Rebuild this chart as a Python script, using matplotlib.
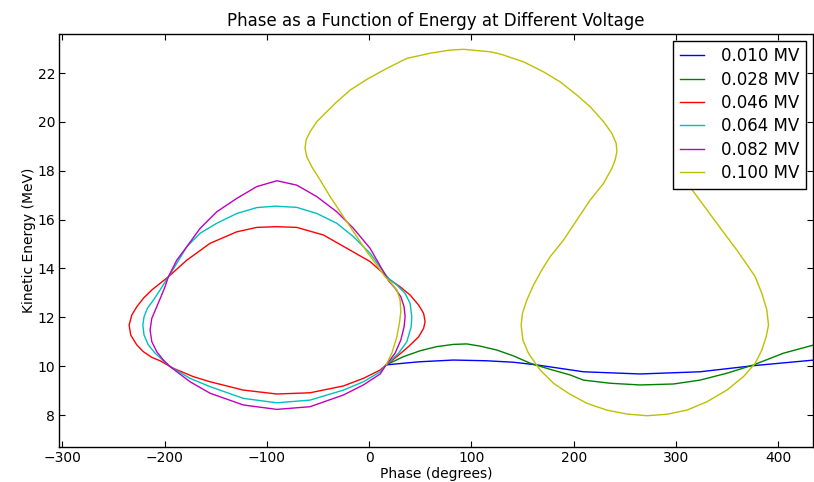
import matplotlib
matplotlib.use('Agg')
import matplotlib.pyplot as plt

# phase (degrees) / kinetic energy (MeV)
labels = ['0.010 MV', '0.028 MV', '0.046 MV', '0.064 MV', '0.082 MV', '0.100 MV']
colors = ['b', 'g', 'r', 'c', 'm', 'y']

phase_010 = [16.6, 33.6, 49.9, 82.4, 115.1, 141.1, 164.0, 209.4, 264.9, 323.6, 375.7, 435.0]
energy_010 = [10.05, 10.12, 10.18, 10.25, 10.22, 10.16, 10.05, 9.77, 9.68, 9.77, 10.02, 10.25]

phase_028 = [16.6, 33.6, 49.9, 66.2, 82.4, 95.5, 108.5, 124.8, 141.1, 157.4, 176.9, 196.5,
             209.4, 235.6, 264.9, 297.5, 323.6, 349.7, 375.7, 405.0, 435.0]
energy_028 = [10.05, 10.39, 10.63, 10.80, 10.89, 10.91, 10.82, 10.66, 10.42, 10.12, 9.87, 9.64,
              9.43, 9.30, 9.23, 9.27, 9.43, 9.71, 10.05, 10.53, 10.87]

phase_046 = [16.6, 27.1, 38.5, 48.4, 53.3, 54.7, 53.3, 48.4, 40.1, 30.3, 20.5, 14.0, 1.0,
             -18.6, -44.7, -70.7, -90.2, -109.8, -129.3, -155.4, -178.2, -196.2, -204.3,
             -212.4, -220.6, -227.1, -232.0, -234.6, -233.0, -227.1, -220.6, -212.4, -204.3,
             -191.3, -171.8, -155.4, -122.9, -90.2, -57.7, -25.1, -5.6, 10.8, 16.6]
energy_046 = [10.05, 10.39, 10.80, 11.20, 11.55, 11.82, 12.16, 12.50, 12.91, 13.25, 13.53, 13.80, 14.28,
              14.75, 15.37, 15.68, 15.71, 15.68, 15.50, 15.03, 14.34, 13.66, 13.39,
              13.12, 12.78, 12.43, 12.09, 11.68, 11.27, 10.87, 10.59, 10.36, 10.22,
              9.91, 9.57, 9.36, 9.02, 8.86, 8.91, 9.19, 9.50, 9.84, 10.05]

phase_064 = [16.6, 28.7, 36.9, 41.1, 41.7, 40.1, 35.2, 27.1, 18.9, 14.0, 1.0, -15.3, -31.6,
             -51.1, -70.7, -91.9, -109.8, -129.3, -148.9, -165.2, -178.2, -188.0, -196.2,
             -204.3, -210.8, -216.7, -220.0, -221.2, -220.0, -215.8, -209.2, -201.1, -194.5,
             -175.0, -155.4, -122.9, -90.2, -57.7, -25.1, -5.6, 10.8, 16.6]
energy_064 = [10.05, 10.53, 11.00, 11.61, 12.02, 12.57, 12.98, 13.32, 13.60, 13.87, 14.62, 15.30, 15.85,
              16.25, 16.50, 16.55, 16.49, 16.25, 15.85, 15.44, 14.89, 14.21, 13.66,
              13.12, 12.71, 12.37, 12.02, 11.68, 11.27, 10.87, 10.53, 10.22, 9.98,
              9.50, 9.16, 8.68, 8.50, 8.61, 9.02, 9.36, 9.77, 10.05]

phase_082 = [16.6, 25.4, 31.0, 34.2, 35.2, 34.2, 31.0, 25.4, 18.9, 14.0, 1.0, -15.3, -31.6,
             -51.1, -70.7, -90.2, -109.8, -129.3, -148.9, -165.2, -178.2, -188.0, -196.2,
             -199.5, -203.5, -207.6, -212.4, -214.1, -212.4, -207.6, -201.1, -194.5, -175.0,
             -155.4, -122.9, -90.2, -57.7, -25.1, -5.6, 10.8, 16.6]
energy_082 = [10.05, 10.53, 11.07, 11.61, 12.02, 12.43, 12.84, 13.19, 13.50, 13.87, 14.82, 15.64, 16.32,
              16.94, 17.41, 17.59, 17.35, 16.87, 16.32, 15.64, 14.89, 14.34, 13.66,
              13.25, 12.84, 12.43, 11.96, 11.48, 11.00, 10.59, 10.25, 9.98, 9.36,
              8.89, 8.41, 8.23, 8.34, 8.82, 9.23, 9.68, 10.05]

phase_100 = [16.6, 22.2, 27.1, 29.6, 31.0, 30.3, 27.1, 20.5, 15.6, 7.5, -2.2, -12.0, -25.1,
             -38.1, -47.9, -56.0, -60.9, -62.6, -61.6, -57.7, -51.1, -44.7, -31.6, -18.6,
             -2.2, 17.3, 36.9, 59.6, 79.2, 92.2, 118.3, 128.1, 150.8, 170.4, 186.7, 203.0,
             216.1, 229.1, 237.3, 241.5, 242.2, 240.5, 237.3, 229.1, 216.1, 203.0, 190.0,
             177.0, 168.8, 160.7, 154.2, 149.9, 148.6, 150.3, 155.7, 167.2, 180.2, 194.8,
             212.8, 232.4, 251.9, 271.5, 291.0, 310.6, 330.1, 349.7, 365.9, 377.4, 383.9,
             388.1, 390.4, 388.8, 383.9, 377.4, 370.8, 359.5, 344.8, 321.9, 300.1]
energy_100 = [10.05, 10.53, 11.20, 11.75, 12.23, 12.71, 13.12, 13.46, 13.66, 14.14, 14.68, 15.30, 16.12,
              16.94, 17.62, 18.16, 18.57, 18.92, 19.26, 19.60, 20.01, 20.28, 20.82, 21.30,
              21.74, 22.19, 22.60, 22.81, 22.94, 22.97, 22.87, 22.78, 22.46, 22.05, 21.64, 21.10,
              20.62, 20.01, 19.53, 19.12, 18.78, 18.44, 18.10, 17.48, 16.80, 15.98, 15.16,
              14.48, 13.94, 13.32, 12.71, 12.16, 11.68, 11.07, 10.53, 9.84, 9.30, 8.89,
              8.48, 8.20, 8.04, 7.97, 8.03, 8.20, 8.54, 9.02, 9.57, 10.12, 10.66,
              11.20, 11.68, 12.30, 12.98, 13.66, 14.07, 14.75, 15.57, 16.87, 18.11]

phases = [phase_010, phase_028, phase_046, phase_064, phase_082, phase_100]
energies = [energy_010, energy_028, energy_046, energy_064, energy_082, energy_100]

fig = plt.figure(figsize=(8.14, 4.82), dpi=100)
ax = fig.add_axes([0.0729, 0.0726, 0.926, 0.857])

for ph, en, c, lab in zip(phases, energies, colors, labels):
    ax.plot(ph, en, color=c, lw=1.0, label=lab)

ax.set_xlim(-302.8, 434)
ax.set_ylim(6.69, 23.6)
ax.set_xticks(range(-300, 401, 100))
ax.set_yticks(range(8, 23, 2))
ax.tick_params(direction='in', top=True, right=True, length=4, labelsize=10, pad=3)
for s in ax.spines.values():
    s.set_linewidth(1.0)

ax.set_title('Phase as a Function of Energy at Different Voltage', fontsize=12)
ax.set_xlabel('Phase (degrees)', fontsize=10, labelpad=1)
ax.set_ylabel('Kinetic Energy (MeV)', fontsize=10, labelpad=1)

leg = ax.legend(loc='upper right', fontsize=12, fancybox=False, framealpha=1,
                edgecolor='black', borderaxespad=0.4, handlelength=1.45,
                handletextpad=1.05, labelspacing=0.32)
leg.get_frame().set_linewidth(1.0)

fig.savefig('out.png', dpi=100)
